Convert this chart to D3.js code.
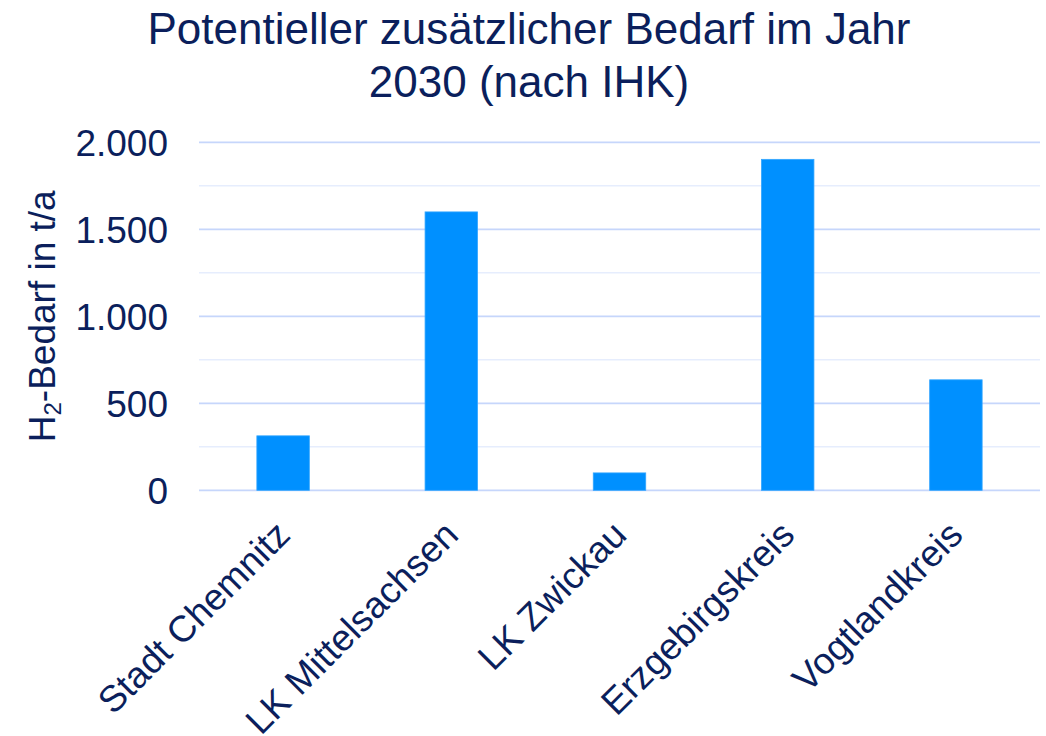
<!DOCTYPE html>
<html>
<head>
<meta charset="utf-8">
<script src="https://cdn.jsdelivr.net/npm/d3@7"></script>
<style>
  html, body { margin: 0; padding: 0; background: #ffffff; }
  svg { display: block; }
  text { font-family: "Liberation Sans", Arial, sans-serif; fill: #0b1f5c; }
</style>
</head>
<body>
<svg id="chart" width="1046" height="736"></svg>
<script>
const categories = ["Stadt Chemnitz", "LK Mittelsachsen", "LK Zwickau", "Erzgebirgskreis", "Vogtlandkreis"];
const values = [313, 1600, 100, 1902, 635];
const yTicks = [0, 500, 1000, 1500, 2000];
const yTickLabels = ["0", "500", "1.000", "1.500", "2.000"];
const minorTicks = [250, 750, 1250, 1750];
const titleLines = ["Potentieller zusätzlicher Bedarf im Jahr", "2030 (nach IHK)"];

(function () {
const svg = d3.select("#chart");
const plotLeft = 199, plotRight = 1040, plotTop = 142.3, plotBottom = 490.3;

const x = d3.scaleBand().domain(categories).range([plotLeft, plotRight]).paddingInner(0.688).paddingOuter(0.344);
const y = d3.scaleLinear().domain([0, 2000]).range([plotBottom, plotTop]);

// minor gridlines
svg.append("g").selectAll("line").data(minorTicks).join("line")
  .attr("x1", plotLeft).attr("x2", plotRight)
  .attr("y1", d => y(d)).attr("y2", d => y(d))
  .attr("stroke", "#e6edfd").attr("stroke-width", 1.5);

// major gridlines
svg.append("g").selectAll("line").data(yTicks).join("line")
  .attr("x1", plotLeft).attr("x2", plotRight)
  .attr("y1", d => y(d)).attr("y2", d => y(d))
  .attr("stroke", "#c6d6fb").attr("stroke-width", 1.8);

// bars
svg.append("g").selectAll("rect").data(values).join("rect")
  .attr("x", (d, i) => x(categories[i]))
  .attr("width", x.bandwidth())
  .attr("y", d => y(d))
  .attr("height", d => y(0) - y(d))
  .attr("fill", "#0090ff")
  .attr("stroke", "#33a6ff").attr("stroke-width", 0.8);

// y tick labels
svg.append("g").selectAll("text").data(yTicks).join("text")
  .attr("x", 168)
  .attr("y", d => y(d))
  .attr("dy", "0.36em")
  .attr("text-anchor", "end")
  .style("font-size", "37px")
  .text((d, i) => yTickLabels[i]);

// x labels
svg.append("g").selectAll("text").data(categories).join("text")
  .attr("transform", d => `translate(${x(d) + x.bandwidth() / 2 + 9},${537}) rotate(-45)`)
  .attr("text-anchor", "end")
  .style("font-size", "37px")
  .text(d => d);

// y axis title
const yt = svg.append("text")
  .attr("transform", `translate(55,${(plotTop + plotBottom) / 2}) rotate(-90)`)
  .attr("text-anchor", "middle")
  .style("font-size", "37px");
yt.append("tspan").text("H");
yt.append("tspan").attr("dy", "0.25em").style("font-size", "24px").text("2");
yt.append("tspan").attr("dy", "-0.17em").text("-Bedarf in t/a");

// title
svg.append("g").selectAll("text").data(titleLines).join("text")
  .attr("x", 529)
  .attr("y", (d, i) => 44 + i * 52.5)
  .attr("text-anchor", "middle")
  .style("font-size", "44px")
  .text(d => d);
})();
</script>
</body>
</html>
